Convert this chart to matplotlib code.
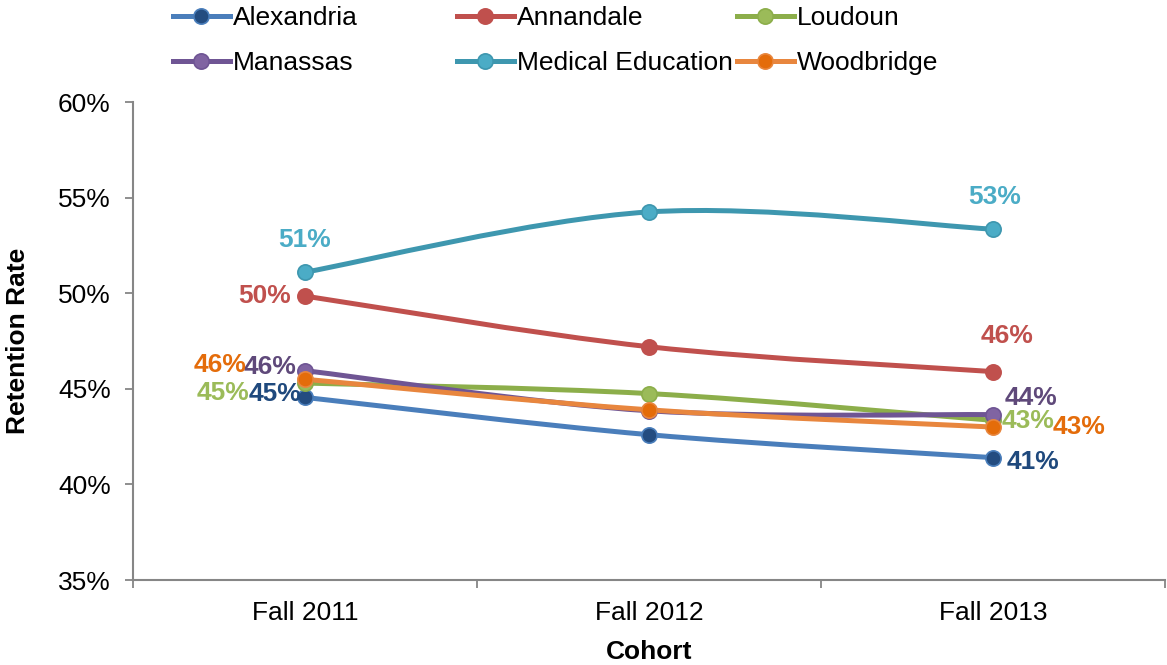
import matplotlib
matplotlib.use("Agg")
import matplotlib.pyplot as plt
from matplotlib.path import Path
from matplotlib.patches import PathPatch
from matplotlib.lines import Line2D
import numpy as np

plt.rcParams['font.family'] = ['Liberation Sans', 'DejaVu Sans']

cohorts = ["Fall 2011", "Fall 2012", "Fall 2013"]
series_names = ["Alexandria", "Annandale", "Loudoun", "Manassas", "Medical Education", "Woodbridge"]
alexandria = [44.55, 42.6, 41.4]
annandale = [49.85, 47.2, 45.9]
loudoun = [45.3, 44.75, 43.35]
manassas = [45.95, 43.85, 43.65]
medical_education = [51.1, 54.25, 53.35]
woodbridge = [45.5, 43.9, 43.0]
values = [alexandria, annandale, loudoun, manassas, medical_education, woodbridge]

line_colors = ["#4A7EBB", "#C0504D", "#8CAE4A", "#6F5594", "#3E97AF", "#E8863E"]
marker_colors = ["#234C80", "#C0504D", "#9BBB59", "#8064A2", "#4BACC6", "#E46C0A"]
label_colors = ["#1F497D", "#C0504D", "#9BBB59", "#5F497A", "#4BACC6", "#E46C0A"]

# label offsets in pixels (dx, dy, ha) for first and last cohorts
label_offsets = {
    "Alexandria": [(-4, 3, "right"), (14, -4, "left")],
    "Annandale": [(-14, 0, "right"), (14, 36, "center")],
    "Loudoun": [(-56, -10, "right"), (9, -1, "left")],
    "Manassas": [(-8, 4, "right"), (12, 17, "left")],
    "Medical Education": [(0, 32, "center"), (2, 32, "center")],
    "Woodbridge": [(-59, 14, "right"), (60, 0, "left")],
}

FS = 19
W, H = 1167, 665
fig = plt.figure(figsize=(W / 100, H / 100), dpi=100)
ax = fig.add_axes([133 / W, 85 / H, (1165 - 133) / W, (580 - 102) / H])

x = np.arange(len(cohorts))


def smooth_path(xs, ys):
    pts = np.column_stack([xs, ys]).astype(float)
    n = len(pts)
    verts = [pts[0]]
    codes = [Path.MOVETO]
    for i in range(n - 1):
        p0 = pts[i - 1] if i > 0 else pts[i]
        p1 = pts[i]
        p2 = pts[i + 1]
        p3 = pts[i + 2] if i + 2 < n else pts[i + 1]
        c1 = p1 + (p2 - p0) / 6.0
        c2 = p2 - (p3 - p1) / 6.0
        verts += [c1, c2, p2]
        codes += [Path.CURVE4] * 3
    return Path(verts, codes)


for name, vals, lc, mc, tc in zip(series_names, values, line_colors, marker_colors, label_colors):
    path = smooth_path(x, vals)
    ax.add_patch(PathPatch(path, facecolor="none", edgecolor=lc, lw=3.6,
                           capstyle="round", joinstyle="round", zorder=2))
    ax.plot(x, vals, linestyle="none", marker="o", markersize=11,
            markerfacecolor=mc, markeredgecolor=lc, markeredgewidth=1.2, zorder=3)
    for idx, (dx, dy, ha) in zip([0, len(vals) - 1], label_offsets[name]):
        ax.annotate(f"{vals[idx]:.0f}%", (x[idx], vals[idx]), xytext=(dx, dy),
                    textcoords="offset pixels", ha=ha, va="center",
                    fontsize=FS, fontweight="bold", color=tc, zorder=4)

ax.set_xlim(-0.5, 2.5)
ax.set_ylim(35, 60)
ax.set_yticks(np.arange(35, 61, 5))
ax.set_yticklabels([f"{v}%" for v in range(35, 61, 5)], fontsize=FS)
ax.set_xticks(x)
ax.set_xticklabels(cohorts, fontsize=FS)
ax.set_xticks([-0.5, 0.5, 1.5, 2.5], minor=True)
ax.tick_params(axis="x", which="major", length=0, pad=15)
ax.tick_params(axis="x", which="minor", length=6, width=1.3, color="#868686", direction="out")
ax.tick_params(axis="y", length=6, width=1.3, color="#868686", direction="out", pad=10)

for s in ["top", "right"]:
    ax.spines[s].set_visible(False)
for s in ["left", "bottom"]:
    ax.spines[s].set_color("#868686")
    ax.spines[s].set_linewidth(1.5)

ax.set_xlabel("Cohort", fontsize=FS, fontweight="bold", va="center")
ax.xaxis.set_label_coords(0.5, (580 - 652) / 478)
ax.set_ylabel("Retention Rate", fontsize=FS, fontweight="bold", va="center", ha="center")
ax.yaxis.set_label_coords((18 - 133) / 1032, 0.5)

# legend entries positioned like the reference
legend_pos = [(173, 18), (457, 18), (737, 18), (173, 63), (457, 63), (737, 63)]
for name, lc, mc, (px, py) in zip(series_names, line_colors, marker_colors, legend_pos):
    h = Line2D([], [], color=lc, lw=3.6, marker="o", markersize=11,
               markerfacecolor=mc, markeredgecolor=lc, markeredgewidth=1.2)
    fig.legend([h], [name], loc="center left",
               bbox_to_anchor=(px / W, 1 - py / H), frameon=False,
               fontsize=FS, handlelength=2.15, handletextpad=0.12,
               borderpad=0, borderaxespad=0)

fig.savefig("out.png", dpi=100)
